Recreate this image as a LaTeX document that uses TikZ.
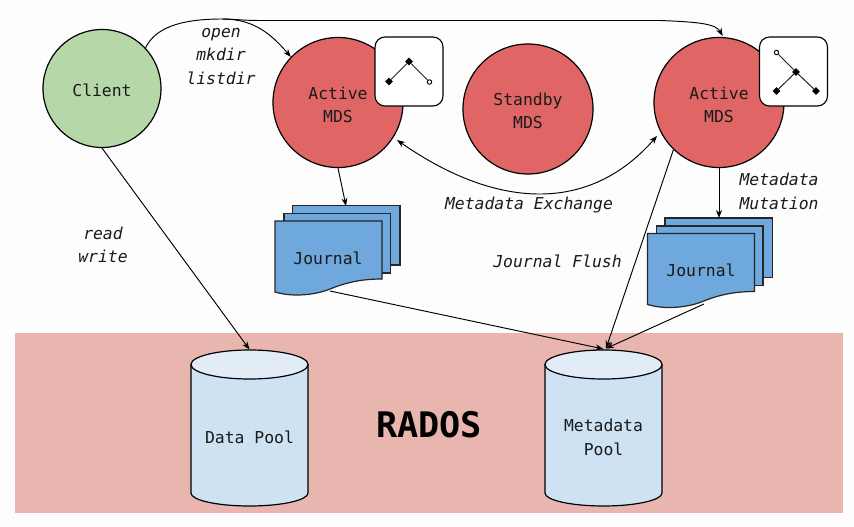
\documentclass[tikz,border=0pt]{standalone}
\usepackage{fontspec}
\setmonofont{DejaVu Sans Mono}
\setmainfont{DejaVu Sans Mono}
\usetikzlibrary{arrows.meta,shapes.geometric,calc}
\definecolor{bgc}{HTML}{FDFDFD}
\definecolor{bandc}{HTML}{E8B6AF}
\definecolor{redc}{HTML}{E06666}
\definecolor{greenc}{HTML}{B6D7A8}
\definecolor{docc}{HTML}{6FA8DC}
\definecolor{cylc}{HTML}{CFE2F3}
\definecolor{cyltop}{HTML}{E2ECF7}
\definecolor{inkc}{HTML}{1A1A1A}
\tikzset{
  x=1pt,y=-1pt,
  txt/.style={font=\fontsize{16.4}{23.3}\selectfont,text=inkc,inner sep=0pt,align=center},
  lab/.style={txt,font=\fontsize{16.4}{23.3}\selectfont\itshape},
  circ/.style={circle,draw=black,line width=1.2pt,inner sep=0pt,align=center,font=\fontsize{16.4}{23.3}\selectfont,text=inkc},
  mds/.style={circ,fill=redc,minimum size=130pt},
  icon/.style={rectangle,rounded corners=10pt,draw=black,fill=white,line width=1.1pt,minimum width=68pt,minimum height=69pt,inner sep=0pt},
  doc/.style={draw=black!85,fill=docc,line width=1.2pt,line join=miter},
  poolbody/.style={draw=black,fill=cylc,line width=1.2pt},
  pooltop/.style={draw=black,fill=cyltop,line width=1.2pt},
  tip/.style={-{Stealth[length=8pt,width=6pt]},line width=0.95pt,draw=black},
  tipboth/.style={{Stealth[length=8pt,width=6pt]}-{Stealth[length=8pt,width=6pt]},line width=0.95pt,draw=black},
  tn/.style={diamond,fill=black,inner sep=0pt,minimum size=8pt},
  tw/.style={circle,draw=black,fill=white,line width=0.9pt,inner sep=0pt,minimum size=4.5pt},
  te/.style={line width=1pt,draw=black!85},
}
\newcommand{\jstack}{%
  \path[doc] (292.5,205.5) rectangle (400,265);
  \path[doc] (284,213.5) rectangle (390.5,273);
  \path[doc] (275,221) -- (382,221) -- (382,279)
    .. controls (360,279) and (345,283) .. (330,289)
    .. controls (318,294) and (295,298) .. (275,292) -- cycle;
}
\newcommand{\poolshape}{%
  \path[poolbody] (191,364.5) -- (191,493)
    .. controls (191,500.2) and (217.2,506) .. (249.5,506)
    .. controls (281.8,506) and (308,500.2) .. (308,493) -- (308,364.5) -- cycle;
  \path[pooltop] (249.5,364.5) ellipse [x radius=58.5, y radius=14.5];
}
\begin{document}
\begin{tikzpicture}
\useasboundingbox (0,0) rectangle (854,527);
\fill[bgc] (0,0) rectangle (854,527);
\fill[bandc] (15,333) rectangle (843,513);

% journals
\jstack
\begin{scope}[shift={(372.5,12.5)}]
\jstack
\end{scope}
\node[txt] (j1) at (328,258) {Journal};
\node[txt] (j2) at (701,270.5) {Journal};
\coordinate (j1out) at (330,291);
\coordinate (j1in) at (346,206);
\coordinate (j2out) at (704,304);
\coordinate (j2in) at (719,218);

% circles
\node[circ,fill=greenc,minimum size=118pt] (client) at (102,88.5) {};
\node[txt] (clientt) at (102,90) {Client};
\node[mds] (mdsL) at (338,102.5) {};
\node[mds] (standby) at (528,109) {};
\node[mds] (mdsR) at (719,102.5) {};
\node[txt] (mdsLt) at (338,105) {Active\\MDS};
\node[txt] (sbt) at (528,111) {Standby\\MDS};
\node[txt] (mdsRt) at (719,105) {Active\\MDS};

% icons
\node[icon] (iconL) at (409,71.5) {};
\node[icon] (iconR) at (793.5,71.5) {};
\node[tn] (a1) at (389,81.5) {};
\node[tn] (a2) at (409,61.5) {};
\node[tw] (a3) at (429.5,82) {};
\draw[te] (a1) -- (a2);
\draw[te] (a2) -- (a3);
\node[tw] (b1) at (776.5,52.5) {};
\node[tn] (b2) at (796,72) {};
\node[tn] (b3) at (776.5,91) {};
\node[tn] (b4) at (816,91) {};
\draw[te] (b1) -- (b2);
\draw[te] (b2) -- (b3);
\draw[te] (b2) -- (b4);

% pools
\poolshape
\begin{scope}[shift={(354,0)}]
\poolshape
\end{scope}
\coordinate (dataTop) at (249.5,349.5);
\coordinate (metaTop) at (603.5,349.5);
\node[txt] (dataT) at (249.5,437) {Data Pool};
\node[txt] (metaT) at (603.5,437.5) {Metadata\\Pool};

% labels
\node[lab] (l1) at (221,56.5) {open\\mkdir\\listdir};
\node[lab] (l2) at (103,245) {read\\write};
\node[lab] (l3) at (529,205.5) {Metadata Exchange};
\node[lab] (l4) at (557.5,261) {Journal Flush};
\node[lab] (l5) at (779,191.5) {Metadata\\Mutation};
\node[txt,font=\fontsize{35.2}{40}\selectfont\bfseries,text=black] (rados) at (429,425) {RADOS};

% connectors
\coordinate (exL) at (397,140);
\coordinate (exR) at (657,136);
\coordinate (tipR) at (722.7,36);
\draw[tip] (client.43) .. controls (155,28) and (180,19) .. (222,19) .. controls (250,19) and (268,30) .. (mdsL.136);
\draw[tip] (222,19) .. controls (235,19) and (240,20.5) .. (262,20.5) -- (660,20.5) .. controls (700,22) and (716,24) .. (tipR);
\draw[tip] (client.-90) -- (dataTop);
\draw[tip] (mdsL.-90) -- (j1in);
\draw[tip] (mdsR.-90) -- (j2in);
\draw[tipboth] (exL) .. controls (490,205) and (585,218) .. (exR);
\draw[tip] (mdsR.226) -- ($(metaTop)+(2.5,-1)$);
\draw[tip] (j1out) -- ($(metaTop)+(0,-0.5)$);
\draw[tip] (j2out) -- ($(metaTop)+(2.5,-1)$);
\end{tikzpicture}
\end{document}
